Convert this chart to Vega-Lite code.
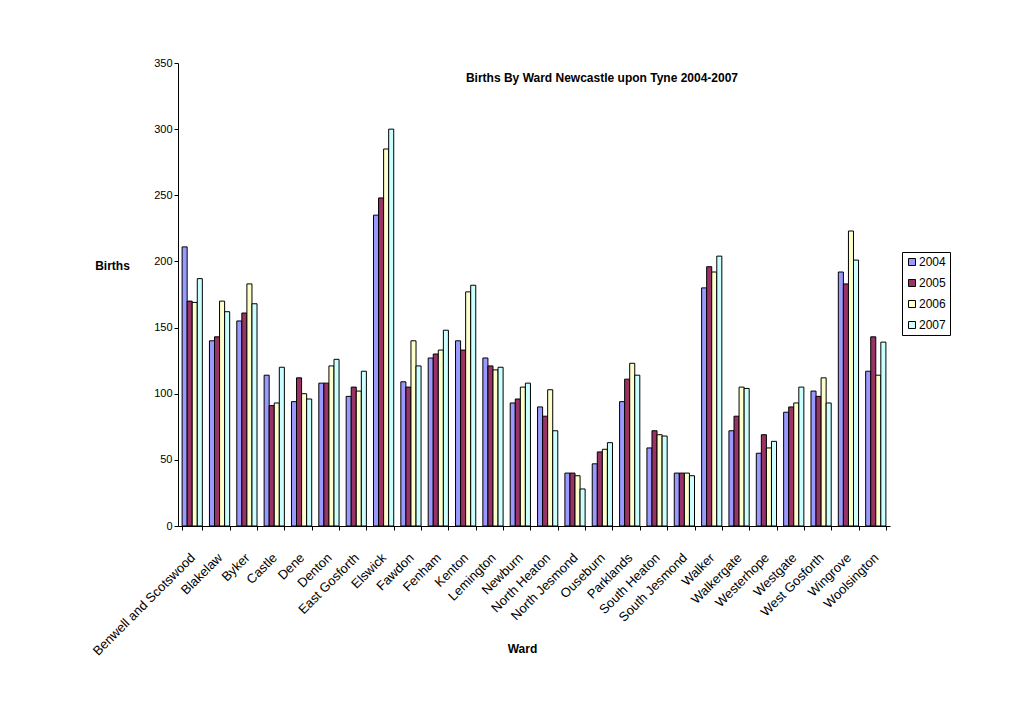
{
  "$schema": "https://vega.github.io/schema/vega-lite/v6.json",
  "width": 712,
  "height": 463,
  "autosize": {"type": "none"},
  "padding": {"left": 178, "top": 63, "right": 140, "bottom": 202},
  "background": "white",
  "title": {
    "text": "Births By Ward Newcastle upon Tyne 2004-2007",
    "font": "Liberation Sans",
    "fontSize": 12,
    "fontWeight": "bold",
    "color": "black",
    "anchor": "middle",
    "dx": 68,
    "dy": 32
  },
  "data": {
    "values": [
      {"ward": "Benwell and Scotswood", "year": "2004", "births": 211},
      {"ward": "Benwell and Scotswood", "year": "2005", "births": 170},
      {"ward": "Benwell and Scotswood", "year": "2006", "births": 169},
      {"ward": "Benwell and Scotswood", "year": "2007", "births": 187},
      {"ward": "Blakelaw", "year": "2004", "births": 140},
      {"ward": "Blakelaw", "year": "2005", "births": 143},
      {"ward": "Blakelaw", "year": "2006", "births": 170},
      {"ward": "Blakelaw", "year": "2007", "births": 162},
      {"ward": "Byker", "year": "2004", "births": 155},
      {"ward": "Byker", "year": "2005", "births": 161},
      {"ward": "Byker", "year": "2006", "births": 183},
      {"ward": "Byker", "year": "2007", "births": 168},
      {"ward": "Castle", "year": "2004", "births": 114},
      {"ward": "Castle", "year": "2005", "births": 91},
      {"ward": "Castle", "year": "2006", "births": 93},
      {"ward": "Castle", "year": "2007", "births": 120},
      {"ward": "Dene", "year": "2004", "births": 94},
      {"ward": "Dene", "year": "2005", "births": 112},
      {"ward": "Dene", "year": "2006", "births": 100},
      {"ward": "Dene", "year": "2007", "births": 96},
      {"ward": "Denton", "year": "2004", "births": 108},
      {"ward": "Denton", "year": "2005", "births": 108},
      {"ward": "Denton", "year": "2006", "births": 121},
      {"ward": "Denton", "year": "2007", "births": 126},
      {"ward": "East Gosforth", "year": "2004", "births": 98},
      {"ward": "East Gosforth", "year": "2005", "births": 105},
      {"ward": "East Gosforth", "year": "2006", "births": 102},
      {"ward": "East Gosforth", "year": "2007", "births": 117},
      {"ward": "Elswick", "year": "2004", "births": 235},
      {"ward": "Elswick", "year": "2005", "births": 248},
      {"ward": "Elswick", "year": "2006", "births": 285},
      {"ward": "Elswick", "year": "2007", "births": 300},
      {"ward": "Fawdon", "year": "2004", "births": 109},
      {"ward": "Fawdon", "year": "2005", "births": 105},
      {"ward": "Fawdon", "year": "2006", "births": 140},
      {"ward": "Fawdon", "year": "2007", "births": 121},
      {"ward": "Fenham", "year": "2004", "births": 127},
      {"ward": "Fenham", "year": "2005", "births": 130},
      {"ward": "Fenham", "year": "2006", "births": 133},
      {"ward": "Fenham", "year": "2007", "births": 148},
      {"ward": "Kenton", "year": "2004", "births": 140},
      {"ward": "Kenton", "year": "2005", "births": 133},
      {"ward": "Kenton", "year": "2006", "births": 177},
      {"ward": "Kenton", "year": "2007", "births": 182},
      {"ward": "Lemington", "year": "2004", "births": 127},
      {"ward": "Lemington", "year": "2005", "births": 121},
      {"ward": "Lemington", "year": "2006", "births": 118},
      {"ward": "Lemington", "year": "2007", "births": 120},
      {"ward": "Newburn", "year": "2004", "births": 93},
      {"ward": "Newburn", "year": "2005", "births": 96},
      {"ward": "Newburn", "year": "2006", "births": 105},
      {"ward": "Newburn", "year": "2007", "births": 108},
      {"ward": "North Heaton", "year": "2004", "births": 90},
      {"ward": "North Heaton", "year": "2005", "births": 83},
      {"ward": "North Heaton", "year": "2006", "births": 103},
      {"ward": "North Heaton", "year": "2007", "births": 72},
      {"ward": "North Jesmond", "year": "2004", "births": 40},
      {"ward": "North Jesmond", "year": "2005", "births": 40},
      {"ward": "North Jesmond", "year": "2006", "births": 38},
      {"ward": "North Jesmond", "year": "2007", "births": 28},
      {"ward": "Ouseburn", "year": "2004", "births": 47},
      {"ward": "Ouseburn", "year": "2005", "births": 56},
      {"ward": "Ouseburn", "year": "2006", "births": 58},
      {"ward": "Ouseburn", "year": "2007", "births": 63},
      {"ward": "Parklands", "year": "2004", "births": 94},
      {"ward": "Parklands", "year": "2005", "births": 111},
      {"ward": "Parklands", "year": "2006", "births": 123},
      {"ward": "Parklands", "year": "2007", "births": 114},
      {"ward": "South Heaton", "year": "2004", "births": 59},
      {"ward": "South Heaton", "year": "2005", "births": 72},
      {"ward": "South Heaton", "year": "2006", "births": 69},
      {"ward": "South Heaton", "year": "2007", "births": 68},
      {"ward": "South Jesmond", "year": "2004", "births": 40},
      {"ward": "South Jesmond", "year": "2005", "births": 40},
      {"ward": "South Jesmond", "year": "2006", "births": 40},
      {"ward": "South Jesmond", "year": "2007", "births": 38},
      {"ward": "Walker", "year": "2004", "births": 180},
      {"ward": "Walker", "year": "2005", "births": 196},
      {"ward": "Walker", "year": "2006", "births": 192},
      {"ward": "Walker", "year": "2007", "births": 204},
      {"ward": "Walkergate", "year": "2004", "births": 72},
      {"ward": "Walkergate", "year": "2005", "births": 83},
      {"ward": "Walkergate", "year": "2006", "births": 105},
      {"ward": "Walkergate", "year": "2007", "births": 104},
      {"ward": "Westerhope", "year": "2004", "births": 55},
      {"ward": "Westerhope", "year": "2005", "births": 69},
      {"ward": "Westerhope", "year": "2006", "births": 59},
      {"ward": "Westerhope", "year": "2007", "births": 64},
      {"ward": "Westgate", "year": "2004", "births": 86},
      {"ward": "Westgate", "year": "2005", "births": 90},
      {"ward": "Westgate", "year": "2006", "births": 93},
      {"ward": "Westgate", "year": "2007", "births": 105},
      {"ward": "West Gosforth", "year": "2004", "births": 102},
      {"ward": "West Gosforth", "year": "2005", "births": 98},
      {"ward": "West Gosforth", "year": "2006", "births": 112},
      {"ward": "West Gosforth", "year": "2007", "births": 93},
      {"ward": "Wingrove", "year": "2004", "births": 192},
      {"ward": "Wingrove", "year": "2005", "births": 183},
      {"ward": "Wingrove", "year": "2006", "births": 223},
      {"ward": "Wingrove", "year": "2007", "births": 201},
      {"ward": "Woolsington", "year": "2004", "births": 117},
      {"ward": "Woolsington", "year": "2005", "births": 143},
      {"ward": "Woolsington", "year": "2006", "births": 114},
      {"ward": "Woolsington", "year": "2007", "births": 139}
    ]
  },
  "mark": {"type": "bar", "stroke": "black", "strokeWidth": 1},
  "encoding": {
    "x": {
      "field": "ward",
      "type": "nominal",
      "sort": null,
      "title": "Ward",
      "scale": {"paddingInner": 0.26, "paddingOuter": 0.15},
      "axis": {
        "labelAngle": -45,
        "labelAlign": "right",
        "labelBaseline": "top",
        "labelFont": "Liberation Sans",
        "labelFontSize": 13,
        "labelColor": "black",
        "labelPadding": 21,
        "labelOffset": -4,
        "tickBand": "extent",
        "tickColor": "black",
        "tickSize": 4,
        "domainColor": "black",
        "titleFont": "Liberation Sans",
        "titleFontSize": 12,
        "titleFontWeight": "bold",
        "titleColor": "black",
        "titleX": 344,
        "titleY": 122,
        "titleAlign": "center",
        "titleBaseline": "middle"
      }
    },
    "xOffset": {"field": "year", "type": "nominal", "scale": {"paddingInner": 0, "paddingOuter": 0}},
    "y": {
      "field": "births",
      "type": "quantitative",
      "title": "Births",
      "scale": {"domain": [0, 350], "nice": false},
      "axis": {
        "values": [0, 50, 100, 150, 200, 250, 300, 350],
        "grid": false,
        "labelFont": "Liberation Sans",
        "labelFontSize": 11,
        "labelColor": "black",
        "tickColor": "black",
        "tickSize": 4,
        "domainColor": "black",
        "titleFont": "Liberation Sans",
        "titleFontSize": 12,
        "titleFontWeight": "bold",
        "titleColor": "black",
        "titleAngle": 0,
        "titleX": -66,
        "titleY": 202,
        "titleAlign": "center",
        "titleBaseline": "middle"
      }
    },
    "color": {
      "field": "year",
      "type": "nominal",
      "title": null,
      "scale": {"domain": ["2004", "2005", "2006", "2007"], "range": ["#9999FF", "#993366", "#FFFFCC", "#CCFFFF"]},
      "legend": {
        "orient": "none",
        "legendX": 724,
        "legendY": 189,
        "strokeColor": "black",
        "padding": 4,
        "symbolType": "square",
        "symbolSize": 49,
        "symbolStrokeColor": "black",
        "symbolStrokeWidth": 1,
        "labelFont": "Liberation Sans",
        "labelFontSize": 12,
        "labelColor": "black",
        "labelOffset": 1,
        "rowPadding": 9
      }
    }
  },
  "config": {"view": {"stroke": null}}
}
